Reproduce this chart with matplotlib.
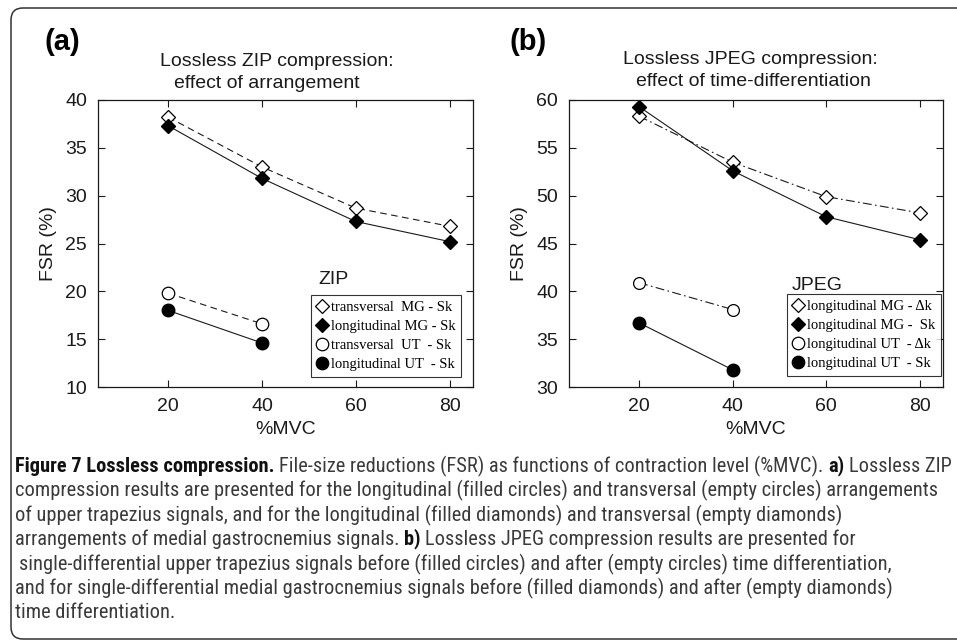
import matplotlib
matplotlib.use("Agg")
import matplotlib.pyplot as plt
from matplotlib.lines import Line2D
from matplotlib.patches import PathPatch
from matplotlib.path import Path
from matplotlib.transforms import IdentityTransform
from matplotlib import font_manager

# data
mvc = [20, 40, 60, 80]
mvc_ut = [20, 40]

# (a) lossless ZIP
zip_trans_mg = [38.2, 33.0, 28.7, 26.8]
zip_long_mg = [37.3, 31.8, 27.3, 25.2]
zip_trans_ut = [19.8, 16.6]
zip_long_ut = [18.0, 14.6]
zip_labels = ["transversal  MG - Sk", "longitudinal MG - Sk",
              "transversal  UT  - Sk", "longitudinal UT  - Sk"]

# (b) lossless JPEG
jpg_mg_dk = [58.3, 53.5, 49.9, 48.2]
jpg_mg_sk = [59.3, 52.6, 47.8, 45.4]
jpg_ut_dk = [40.9, 38.1]
jpg_ut_sk = [36.7, 31.8]
jpg_labels = ["longitudinal MG - \u0394k", "longitudinal MG -  Sk",
              "longitudinal UT  - \u0394k", "longitudinal UT  - Sk"]

W, H = 957, 640
sans = "Liberation Sans"
serif = "Liberation Serif"
ink = "#1a1a1a"

fig = plt.figure(figsize=(W / 100, H / 100), dpi=100)
fig.patch.set_facecolor("white")

# open frame: top and left sides with rounded corners, running off the right edge
r, left, top, bottom = 12, 11, H - 8, 1
verts = [(W + 20, top), (left + r, top), (left, top), (left, top - r),
         (left, bottom + r), (left, bottom), (left + r, bottom), (W + 20, bottom)]
codes = [Path.MOVETO, Path.LINETO, Path.CURVE3, Path.CURVE3,
         Path.LINETO, Path.CURVE3, Path.CURVE3, Path.LINETO]
fig.add_artist(PathPatch(Path(verts, codes), transform=IdentityTransform(), fill=False,
                         edgecolor="#333333", linewidth=1.1))


def px(x, y):
    return x / W, 1 - y / H


def style_axes(ax, ylim, yticks):
    ax.set_xlim(5, 85)
    ax.set_ylim(*ylim)
    ax.set_xticks(mvc)
    ax.set_yticks(yticks)
    ax.tick_params(direction="in", top=True, right=True, length=5, width=0.8,
                   labelsize=14, pad=8, colors=ink)
    for lab in ax.get_xticklabels() + ax.get_yticklabels():
        lab.set_fontfamily(sans)
    for s in ax.spines.values():
        s.set_linewidth(0.9)
        s.set_color(ink)
    ax.set_xlabel("%MVC", fontsize=14, family=sans, color=ink, labelpad=4)
    ax.set_ylabel("FSR (%)", fontsize=14, family=sans, color=ink, labelpad=6)


def marker_handles(specs):
    hs = []
    for m, fc, ms in specs:
        hs.append(Line2D([], [], linestyle="none", marker=m, markersize=ms,
                         markerfacecolor=fc, markeredgecolor="black", markeredgewidth=0.9))
    return hs


specs = [("D", "white", 7.5), ("D", "black", 7.5), ("o", "white", 9), ("o", "black", 9)]
leg_kw = dict(loc="lower right", frameon=True, fancybox=False, edgecolor="black",
              prop={"family": serif, "size": 10.5}, handlelength=0.7,
              handletextpad=0.25, labelspacing=0.4, borderpad=0.4, borderaxespad=0)

# panel (a)
ax1 = fig.add_axes([98 / W, 1 - 387 / H, 375 / W, 287 / H])
dash = (0, (6, 4))
ax1.plot(mvc, zip_trans_mg, color=ink, lw=0.8, linestyle=dash, marker="D", ms=7.5,
         mfc="white", mec="black", mew=0.9)
ax1.plot(mvc, zip_long_mg, color=ink, lw=0.8, marker="D", ms=7.5, mfc="black", mec="black")
ax1.plot(mvc_ut, zip_trans_ut, color=ink, lw=0.8, linestyle=dash, marker="o", ms=9,
         mfc="white", mec="black", mew=0.9)
ax1.plot(mvc_ut, zip_long_ut, color=ink, lw=0.8, marker="o", ms=9, mfc="black", mec="black")
style_axes(ax1, (10, 40), [10, 15, 20, 25, 30, 35, 40])
leg1 = ax1.legend(marker_handles(specs), zip_labels, bbox_to_anchor=(0.968, 0.035), **leg_kw)
leg1.get_frame().set_linewidth(0.8)
ax1.text(0.587, 0.373, "ZIP", transform=ax1.transAxes, fontsize=14, family=sans,
         color=ink, va="center", ha="left")

# panel (b)
ax2 = fig.add_axes([569 / W, 1 - 387 / H, 374 / W, 287 / H])
dashdot = (0, (8, 3, 1.5, 3))
ax2.plot(mvc, jpg_mg_dk, color=ink, lw=0.8, linestyle=dashdot, marker="D", ms=7.5,
         mfc="white", mec="black", mew=0.9)
ax2.plot(mvc, jpg_mg_sk, color=ink, lw=0.8, marker="D", ms=7.5, mfc="black", mec="black")
ax2.plot(mvc_ut, jpg_ut_dk, color=ink, lw=0.8, linestyle=dashdot, marker="o", ms=8.5,
         mfc="white", mec="black", mew=0.9)
ax2.plot(mvc_ut, jpg_ut_sk, color=ink, lw=0.8, marker="o", ms=9, mfc="black", mec="black")
style_axes(ax2, (30, 60), [30, 35, 40, 45, 50, 55, 60])
leg2 = ax2.legend(marker_handles(specs), jpg_labels, bbox_to_anchor=(0.995, 0.038), **leg_kw)
leg2.get_frame().set_linewidth(0.8)
ax2.text(0.596, 0.355, "JPEG", transform=ax2.transAxes, fontsize=14, family=sans,
         color=ink, va="center", ha="left")

# panel letters and titles
fig.text(*px(45, 42), "(a)", fontsize=21, fontweight="bold", family=sans, va="center")
fig.text(*px(509, 42), "(b)", fontsize=21, fontweight="bold", family=sans, va="center")
fig.text(*px(277, 61), "Lossless ZIP compression:", fontsize=14, family=sans,
         ha="center", va="center", color=ink)
fig.text(*px(267, 83), "effect of arrangement", fontsize=14, family=sans,
         ha="center", va="center", color=ink)
fig.text(*px(750, 60), "Lossless JPEG compression:", fontsize=14, family=sans,
         ha="center", va="center", color=ink)
fig.text(*px(753, 82), "effect of time-differentiation", fontsize=14, family=sans,
         ha="center", va="center", color=ink)

# caption
available = {f.name for f in font_manager.fontManager.ttflist}
cap_font = "Open Sans"
for name in ["Liberation Sans Narrow", "Roboto Condensed", "Open Sans Condensed", "Roboto"]:
    if name in available:
        cap_font = name
        break

caption = [
    [("Figure 7 Lossless compression.", True),
     ("File-size reductions (FSR) as functions of contraction level (%MVC).", False),
     ("a)", True), ("Lossless ZIP", False)],
    [("compression results are presented for the longitudinal (filled circles) and "
      "transversal (empty circles) arrangements", False)],
    [("of upper trapezius signals, and for the longitudinal (filled diamonds) and "
      "transversal (empty diamonds)", False)],
    [("arrangements of medial gastrocnemius signals.", False), ("b)", True),
     ("Lossless JPEG compression results are presented for", False)],
    [("single-differential upper trapezius signals before (filled circles) and after "
      "(empty circles) time differentiation,", False)],
    [("and for single-differential medial gastrocnemius signals before (filled diamonds) "
      "and after (empty diamonds)", False)],
    [("time differentiation.", False)],
]
line_y = [466, 490, 515, 539, 564, 588, 612]
line_x = [15, 15, 15, 15, 19, 15, 15]

renderer = fig.canvas.get_renderer()


def text_width(s, size, bold):
    t = fig.text(0, 0, s, fontsize=size, family=cap_font,
                 fontweight="bold" if bold else "normal")
    w = t.get_window_extent(renderer).width
    t.remove()
    return w


base = 10
space = text_width("x x", base, False) - text_width("xx", base, False)
w0 = sum(text_width(s, base, b) for s, b in caption[0]) + space * (len(caption[0]) - 1)
cap_size = base * (948 - 15) / w0
space = space * cap_size / base

for segs, x0, y in zip(caption, line_x, line_y):
    x = x0
    for s, bold in segs:
        t = fig.text(*px(x, y), s, fontsize=cap_size, family=cap_font, va="center",
                     fontweight="bold" if bold else "normal",
                     color="#111111" if bold else "#3a3a3a")
        x += t.get_window_extent(renderer).width + space

fig.savefig("out.png", dpi=100)
